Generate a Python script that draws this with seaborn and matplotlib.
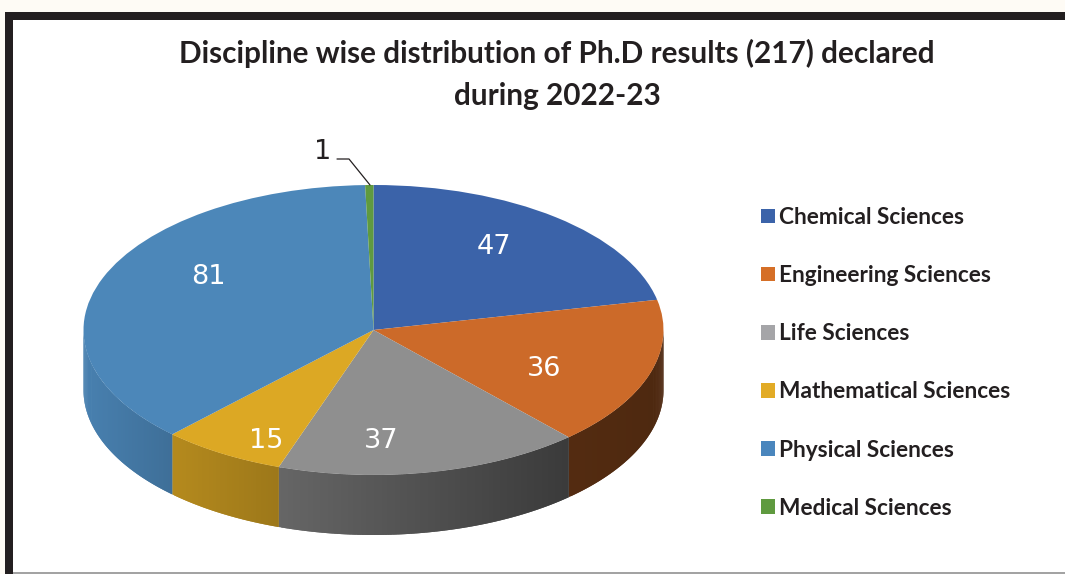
import numpy as np
import matplotlib
matplotlib.use("Agg")
import matplotlib.pyplot as plt
import seaborn as sns
from matplotlib.patches import Patch, Rectangle

disciplines = ["Chemical Sciences", "Engineering Sciences", "Life Sciences",
               "Mathematical Sciences", "Physical Sciences", "Medical Sciences"]
results = [47, 36, 37, 15, 81, 1]
title = "Discipline wise distribution of Ph.D results (217) declared\nduring 2022-23"

top_colors = sns.color_palette(["#3b63a9", "#cc6a29", "#8f8f8f", "#dca824", "#4c87b9", "#5f9a3f"])
legend_colors = sns.color_palette(["#3b63a9", "#d56f27", "#a5a5a8", "#e2ab26", "#4a86bd", "#5f9a3f"])

W, H = 1065, 574
CX, CY, RX, RY, DEPTH = 373.5, 330, 290, 145, 60

sns.set_theme(style="white")
plt.rcParams["font.family"] = ["Lato", "DejaVu Sans"]

fig = plt.figure(figsize=(W / 100, H / 100), dpi=100, facecolor="#fefbf5")
ax = fig.add_axes([0, 0, 1, 1])


def px(x, y):
    # picture pixels -> data units of the flattened pie
    return (x - CX) / RX, (CY - y) / RY


def fig_rect(x0, y0, x1, y1, color, z=0):
    fig.add_artist(Rectangle((x0 / W, 1 - y1 / H), (x1 - x0) / W, (y1 - y0) / H,
                             transform=fig.transFigure, facecolor=color,
                             edgecolor="none", zorder=z))


# frame behind the chart
fig.patch.set_zorder(-5)
fig_rect(5, 12, W, H, "#231f20", z=-4)
fig_rect(13, 20, W, H, "white", z=-3)
fig_rect(13, 572, W, 574, "#a3a3a3", z=-2)
ax.patch.set_alpha(0)

wedges, _ = ax.pie(results, colors=top_colors, startangle=90, counterclock=False,
                   radius=1, wedgeprops={"linewidth": 0, "zorder": 3})
ax.set_aspect("auto")
ax.set_xlim((0 - CX) / RX, (W - CX) / RX)
ax.set_ylim((CY - H) / RY, CY / RY)

# side wall of the disc, shaded in narrow bands from left to right
edges = np.cumsum([0] + results) / sum(results) * 360
depth = DEPTH / RY
for i in range(len(results)):
    a0, a1 = max(edges[i], 90), min(edges[i + 1], 270)
    if a1 <= a0:
        continue
    a = np.radians(np.linspace(a0, a1, max(int(a1 - a0) * 2, 2)))
    x, y = np.sin(a), np.cos(a)
    # every band overlaps its neighbour so no seams show
    for j in range(len(a) - 2, -1, -1):
        s = np.interp((x[j] + x[j + 1]) / 2, [-1, -0.69, -0.32, 0.67, 1], [0.95, 0.82, 0.71, 0.41, 0.38])
        c = tuple(v * s for v in top_colors[i])
        b = max(j - 1, 0)
        ax.fill_between(x[b:j + 2], y[b:j + 2], y[b:j + 2] - depth,
                        facecolor=c, edgecolor="none", zorder=2 + (len(a) - j) * 1e-4)

# value labels
label_px = [(494, 246.5), (544, 368.5), (381, 440.5), (266, 440.5), (208, 277.5)]
for val, (lx, ly) in zip(results, label_px):
    ax.text(*px(lx, ly), str(val), color="white", fontsize=19.5, family="DejaVu Sans",
            ha="center", va="center", zorder=5)
ax.text(*px(323, 152), str(results[5]), color="#231f20", fontsize=19.5, family="DejaVu Sans",
        ha="center", va="center", zorder=5)
lead = np.array([px(337, 159), px(349, 159), px(370, 185)])
ax.plot(lead[:, 0], lead[:, 1], color="#231f20", lw=0.9, zorder=5)

fig.text(557 / W, 1 - 74.5 / H, title, ha="center", va="center", fontsize=21.4,
         fontweight="bold", color="#231f20", linespacing=1.58)

handles = [Patch(facecolor=c, edgecolor="none", label=d) for c, d in zip(legend_colors, disciplines)]
fig.legend(handles=handles, loc="upper left", bbox_to_anchor=(761 / W, 1 - 207 / H),
           frameon=False, labelcolor="#231f20", borderpad=0, borderaxespad=0,
           handlelength=0.615, handleheight=0.615, handletextpad=0.18, labelspacing=1.64,
           prop={"family": "Lato", "weight": "bold", "size": 16.3})

fig.savefig("out.png", dpi=100, facecolor=fig.get_facecolor())
